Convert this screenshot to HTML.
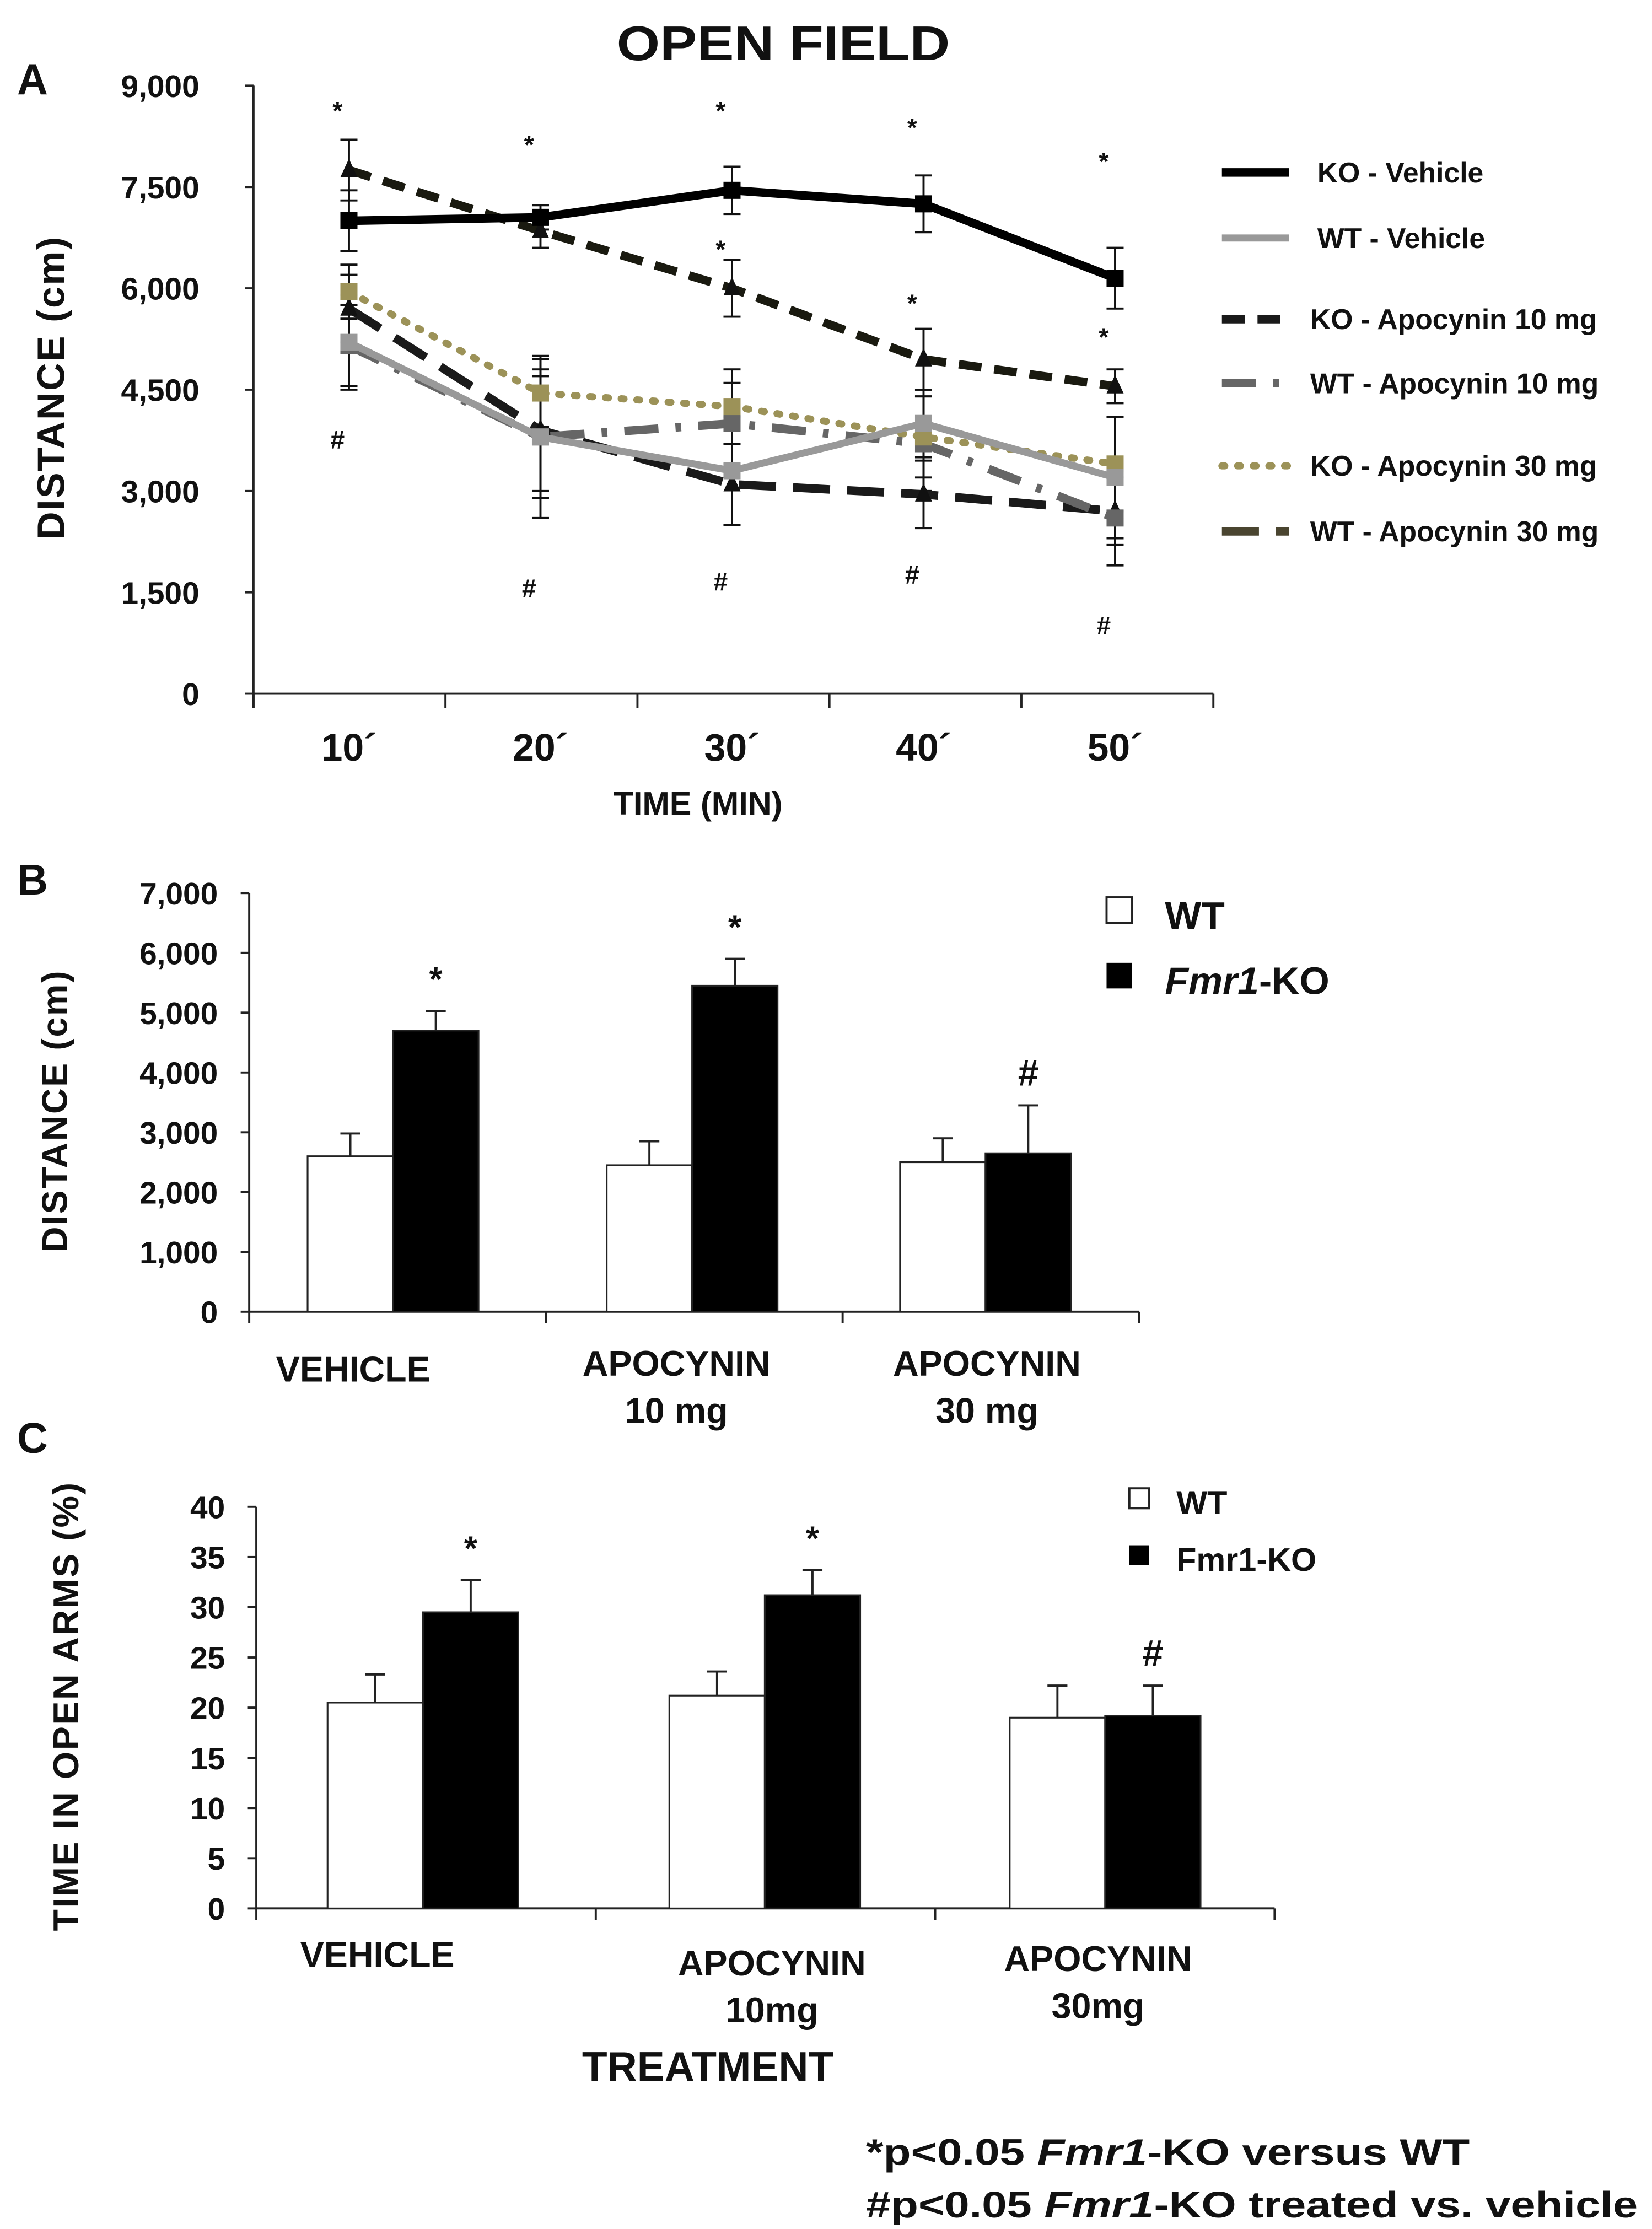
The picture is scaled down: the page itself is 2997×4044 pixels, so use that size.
<!DOCTYPE html>
<html><head><meta charset="utf-8"><style>
html,body{margin:0;padding:0;background:#fff}
svg{display:block}
text{font-family:"Liberation Sans Narrow","Liberation Sans",sans-serif;font-weight:bold;fill:#111}
</style></head><body>
<svg id="fig" width="2997" height="4044" viewBox="0 0 1160 1565" xmlns="http://www.w3.org/2000/svg">
<rect width="1160" height="1565" fill="#fff"/>
<text x="550" y="42" font-size="34" text-anchor="middle" textLength="234" lengthAdjust="spacingAndGlyphs" font-family="Liberation Sans">OPEN FIELD</text>
<text x="12" y="66" font-size="30">A</text>
<text x="12" y="628" font-size="30">B</text>
<text x="12" y="1020" font-size="30">C</text>
<g id="gA"></g>
<g id="gB"></g>
<g id="gC"></g>
<text x="608" y="1520" font-size="26" font-family="Liberation Sans" textLength="424" lengthAdjust="spacingAndGlyphs">*p&lt;0.05 <tspan font-style="italic">Fmr1</tspan>-KO versus WT</text>
<text x="608" y="1557" font-size="26" font-family="Liberation Sans" textLength="542" lengthAdjust="spacingAndGlyphs">#p&lt;0.05 <tspan font-style="italic">Fmr1</tspan>-KO treated vs. vehicle</text>
</svg>
<script>
const NS='http://www.w3.org/2000/svg';
function mk(p,tag,at,txt){const e=document.createElementNS(NS,tag);for(const k in at)e.setAttribute(k,at[k]);if(txt!==undefined)e.textContent=txt;p.appendChild(e);return e;}

// ---------- Panel A data ----------
const timeLabels=["10´","20´","30´","40´","50´"];
const yTicksA=[0,1500,3000,4500,6000,7500,9000];
const yTickLabelsA=["0","1,500","3,000","4,500","6,000","7,500","9,000"];
const koVehicle=[7000,7050,7450,7250,6150];
const koVehicleErr=[450,180,350,420,450];
const wtVehicle=[5200,3800,3300,4000,3200];
const wtVehicleErr=[700,1200,800,500,900];
const koApo10=[7750,6850,6000,4950,4550];
const koApo10Err=[450,250,420,450,250];
const wtApo10=[5150,3800,4000,3700,2600];
const wtApo10Err=[600,900,600,700,700];
const koApo30=[5950,4450,4250,3800,3400];
const koApo30Err=[400,500,550,600,700];
const wtApo30=[5700,3900,3100,2950,2700];
const wtApo30Err=[500,900,600,500,500];
const starA=[8750,8250,8750,8500,8000];
const starA2=[null,null,6700,5900,5400];
const hashA=[3800,1600,1700,1800,1050];

const gA=document.getElementById('gA');
const ax0=178,ax1=852,ay0=487,ay1=60;
const yA=v=>ay0-(v/9000)*(ay0-ay1);
const xA=i=>245+i*134.5;
let e=mk(gA,'line',{x1:ax0,y1:ay1,x2:ax0,y2:ay0+10,stroke:'#222','stroke-width':1.5});

e=mk(gA,'line',{x1:ax0,y1:ay0,x2:ax1,y2:ay0,stroke:'#222','stroke-width':1.5});

yTicksA.forEach((v,i)=>{
  mk(gA,'line',{x1:ax0-6,y1:yA(v),x2:ax0,y2:yA(v),stroke:'#222','stroke-width':1.5});
  e=mk(gA,'text',{x:140,y:yA(v)+8,'font-size':22,'text-anchor':'end'},yTickLabelsA[i]);
  
});
for(let i=0;i<=5;i++){mk(gA,'line',{x1:ax0+i*134.8,y1:ay0,x2:ax0+i*134.8,y2:ay0+10,stroke:'#222','stroke-width':1.5});}
timeLabels.forEach((t,i)=>{e=mk(gA,'text',{x:xA(i),y:534,'font-size':27,'text-anchor':'middle'},t);
  });
e=mk(gA,'text',{x:490,y:572,'font-size':23,'text-anchor':'middle'},'TIME (MIN)');

e=mk(gA,'text',{x:0,y:0,'font-size':27,'text-anchor':'middle','font-family':'Liberation Sans','letter-spacing':1,transform:'translate(45,272) rotate(-90)'},'DISTANCE (cm)');


const seriesA=[
 {name:'wt-apo30',vals:wtApo30,err:wtApo30Err,color:'#1a1a1a',w:6,dash:'26 12',mk:'tri',label:'WT - Apocynin 30 mg',lc:'#4a4530'},
 {name:'wt-apo10',vals:wtApo10,err:wtApo10Err,color:'#666',w:6,dash:'24 12 4 12',mk:'sq',label:'WT - Apocynin 10 mg',lc:'#666'},
 {name:'ko-apo30',vals:koApo30,err:koApo30Err,color:'#9c9258',w:5,dash:'2 9',mk:'sq',label:'KO - Apocynin 30 mg',lc:'#9c9258'},
 {name:'wt-vehicle',vals:wtVehicle,err:wtVehicleErr,color:'#999',w:5,dash:'',mk:'sq',label:'WT - Vehicle',lc:'#999'},
 {name:'ko-apo10',vals:koApo10,err:koApo10Err,color:'#1a1a10',w:6,dash:'16 9',mk:'tri',label:'KO - Apocynin 10 mg',lc:'#1a1a1a'},
 {name:'ko-vehicle',vals:koVehicle,err:koVehicleErr,color:'#000',w:6,dash:'',mk:'sq',label:'KO - Vehicle',lc:'#000'}
];
seriesA.forEach(s=>{
  s.vals.forEach((v,i)=>{
    const x=xA(i);
    e=mk(gA,'line',{x1:x,y1:yA(v+s.err[i]),x2:x,y2:yA(v-s.err[i]),stroke:'#111','stroke-width':1.5});
    
    mk(gA,'line',{x1:x-6,y1:yA(v+s.err[i]),x2:x+6,y2:yA(v+s.err[i]),stroke:'#111','stroke-width':1.5});
    mk(gA,'line',{x1:x-6,y1:yA(v-s.err[i]),x2:x+6,y2:yA(v-s.err[i]),stroke:'#111','stroke-width':1.5});
  });
});
seriesA.forEach(s=>{
  const pts=s.vals.map((v,i)=>xA(i)+','+yA(v)).join(' ');
  e=mk(gA,'polyline',{points:pts,fill:'none',stroke:s.color,'stroke-width':s.w,'stroke-dasharray':s.dash,'stroke-linecap':s.dash==='2 9'?'round':'butt'});
  
  s.vals.forEach((v,i)=>{
    const x=xA(i),y=yA(v);
    if(s.mk==='sq')e=mk(gA,'rect',{x:x-6,y:y-6,width:12,height:12,fill:s.color});
    else e=mk(gA,'polygon',{points:`${x},${y-8} ${x-6},${y+5} ${x+6},${y+5}`,fill:'#111'});
    
  });
});
starA.forEach((v,i)=>{e=mk(gA,'text',{x:xA(i)-8,y:yA(v)+12,'font-size':18,'text-anchor':'middle',fill:'#555'},'*');
  });
starA2.forEach((v,i)=>{if(v===null)return;e=mk(gA,'text',{x:xA(i)-8,y:yA(v)+12,'font-size':18,'text-anchor':'middle',fill:'#555'},'*');
  });
hashA.forEach((v,i)=>{e=mk(gA,'text',{x:xA(i)-8,y:yA(v)+8,'font-size':18,'text-anchor':'middle'},'#');
  });
const legY=[121,167,224,269,327,373];
const legOrder=[5,3,4,1,2,0];
legOrder.forEach((k,j)=>{const s=seriesA[k];const y=legY[j];
  e=mk(gA,'line',{x1:858,y1:y,x2:905,y2:y,stroke:s.lc,'stroke-width':s.w,'stroke-dasharray':s.dash,'stroke-linecap':s.dash==='2 9'?'round':'butt'});
  
  e=mk(gA,'text',{x:j>=2?920:925,y:y+7,'font-size':20},s.label);
  
});

// ---------- Panel B data ----------
const groupsB=[["VEHICLE"],["APOCYNIN","10 mg"],["APOCYNIN","30 mg"]];
const yTicksB=[0,1000,2000,3000,4000,5000,6000,7000];
const yTickLabelsB=["0","1,000","2,000","3,000","4,000","5,000","6,000","7,000"];
const wtB=[2600,2450,2500];
const wtBErr=[380,400,400];
const koB=[4700,5450,2650];
const koBErr=[330,450,800];
const sigB=["*","*","#"];

// ---------- Panel C data ----------
const groupsC=[["VEHICLE"],["APOCYNIN","10mg"],["APOCYNIN","30mg"]];
const yTicksC=[0,5,10,15,20,25,30,35,40];
const yTickLabelsC=["0","5","10","15","20","25","30","35","40"];
const wtC=[20.5,21.2,19.0];
const wtCErr=[2.8,2.4,3.2];
const koC=[29.5,31.2,19.2];
const koCErr=[3.2,2.5,3.0];
const sigC=["*","*","#"];

function barPanel(g,o){
  const y=v=>o.y0-(v/o.max)*(o.y0-o.y1);
  e=mk(g,'line',{x1:o.x0,y1:o.y1,x2:o.x0,y2:o.y0,stroke:'#222','stroke-width':1.5});
  
  e=mk(g,'line',{x1:o.x0,y1:o.y0,x2:o.x1,y2:o.y0,stroke:'#222','stroke-width':1.5});
  
  o.ticks.forEach((v,i)=>{mk(g,'line',{x1:o.x0-6,y1:y(v),x2:o.x0,y2:y(v),stroke:'#222','stroke-width':1.5});
    e=mk(g,'text',{x:o.x0-22,y:y(v)+8,'font-size':22,'text-anchor':'end'},o.tickLabels[i]);
    });
  const gw=(o.x1-o.x0)/3;
  for(let i=0;i<=3;i++)mk(g,'line',{x1:o.x0+i*gw,y1:o.y0,x2:o.x0+i*gw,y2:o.y0+8,stroke:'#222','stroke-width':1.5});
  o.wt.forEach((v,i)=>{
    const c=o.x0+o.c[i];
    const bars=[[c-o.bw,v,o.wtErr[i],'#fff','wt'],[c,o.ko[i],o.koErr[i],'#000','ko']];
    bars.forEach(b=>{
      e=mk(g,'line',{x1:b[0]+o.bw/2,y1:y(b[1]+b[2]),x2:b[0]+o.bw/2,y2:y(b[1]-b[2]),stroke:'#222','stroke-width':1.5});
      
      mk(g,'line',{x1:b[0]+o.bw/2-7,y1:y(b[1]+b[2]),x2:b[0]+o.bw/2+7,y2:y(b[1]+b[2]),stroke:'#222','stroke-width':1.5});
      mk(g,'line',{x1:b[0]+o.bw/2-7,y1:y(b[1]-b[2]),x2:b[0]+o.bw/2+7,y2:y(b[1]-b[2]),stroke:'#222','stroke-width':1.5});
      e=mk(g,'rect',{x:b[0],y:y(b[1]),width:o.bw,height:o.y0-y(b[1]),fill:b[3],stroke:'#222','stroke-width':1.2});
      
    });
    e=mk(g,'text',{x:c+o.bw/2,y:y(o.ko[i]+o.koErr[i])-14,'font-size':o.sig[i]==='*'?24:26,'text-anchor':'middle',fill:o.sig[i]==='*'?'#444':'#111'},o.sig[i]);
    
    o.groups[i].forEach((t,k)=>{e=mk(g,'text',{x:o.x0+o.lx[i],y:o.ly[i]+k*33,'font-size':25,'text-anchor':'middle'},t);
      });
  });
  e=mk(g,'text',{x:0,y:0,'font-size':o.ytSize,'text-anchor':'middle','font-family':'Liberation Sans','letter-spacing':1,transform:`translate(${o.ytx},${o.yty}) rotate(-90)`},o.ytitle);
  
  e=mk(g,'rect',{x:o.lgx,y:o.lgy,width:o.lgs,height:o.lgs,fill:'#fff',stroke:'#222','stroke-width':1.5});
  
  e=mk(g,'rect',{x:o.lgx,y:o.lgy+o.lgd,width:o.lgs,height:o.lgs,fill:'#000'});
  
  e=mk(g,'text',{x:o.lgt,y:o.lgy+o.lgs+4,'font-size':o.lgf,'font-family':'Liberation Sans'},'WT');
  
  e=mk(g,'text',{x:o.lgt,y:o.lgy+o.lgd+o.lgs+4,'font-size':o.lgf,'font-family':'Liberation Sans'});
  
  if(o.italic){const t=mk(e,'tspan',{'font-style':'italic'},'Fmr1');mk(e,'tspan',{},'-KO');}
  else e.textContent='Fmr1-KO';
}
barPanel(document.getElementById('gB'),{x0:175,x1:800,y0:921,y1:627,max:7000,ticks:yTicksB,tickLabels:yTickLabelsB,
  wt:wtB,wtErr:wtBErr,ko:koB,koErr:koBErr,sig:sigB,groups:groupsB,bw:60,c:[101,311,517],
  lx:[73,300,518],ly:[970,966,966],ytitle:'DISTANCE (cm)',ytSize:25,ytx:47,yty:780,
  lgx:777,lgy:630,lgs:18,lgd:46,lgt:818,lgf:27,italic:true});
barPanel(document.getElementById('gC'),{x0:180,x1:895,y0:1340,y1:1058,max:40,ticks:yTicksC,tickLabels:yTickLabelsC,
  wt:wtC,wtErr:wtCErr,ko:koC,koErr:koCErr,sig:sigC,groups:groupsC,bw:67,c:[117,357,596],
  lx:[85,362,591],ly:[1381,1387,1384],ytitle:'TIME IN OPEN ARMS (%)',ytSize:25,ytx:55,yty:1198,
  lgx:793,lgy:1045,lgs:14,lgd:40,lgt:826,lgf:23,italic:false});
e=mk(document.getElementById('gC'),'text',{x:497,y:1461,'font-size':29,'text-anchor':'middle'},'TREATMENT');

</script>
</body></html>
